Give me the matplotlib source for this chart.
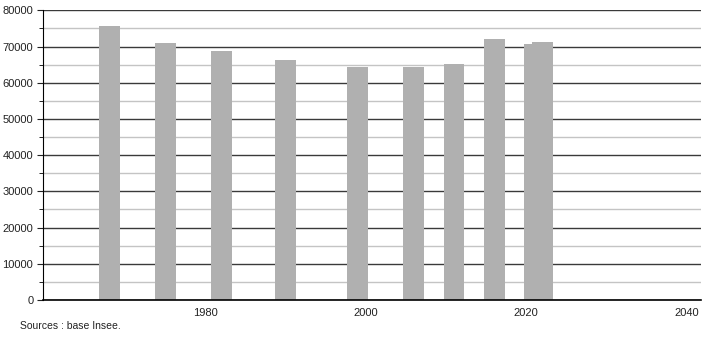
import numpy as np
import matplotlib.pyplot as plt
from matplotlib.ticker import MultipleLocator

# census years and population
years = [1968, 1975, 1982, 1990, 1999, 2006, 2011, 2016, 2021, 2022]
population = [75600, 70900, 68700, 66400, 64450, 64450, 65100, 71950, 70750, 71200]

year_ticks = [1980, 2000, 2020, 2040]


def render_plot():
    plt.rcParams['font.family'] = ['Liberation Sans', 'DejaVu Sans']

    fig = plt.figure(figsize=(7.1, 3.4), dpi=100)
    ax = fig.add_axes([0.0606, 0.1176, 0.9267, 0.852])

    # grid: dark lines every 10000, light ones in between
    ax.yaxis.set_major_locator(MultipleLocator(10000))
    ax.yaxis.set_minor_locator(MultipleLocator(5000))
    ax.grid(axis='y', which='major', color='#3a3a3a', linewidth=1.0)
    ax.grid(axis='y', which='minor', color='#c4c4c4', linewidth=1.0)
    ax.set_axisbelow(True)

    ax.bar(years, population, width=2.6, color='#b0b0b0', align='center')

    ax.set_xlim(1959.75, 2041.8)
    ax.set_ylim(0, 80000)
    ax.set_xticks(year_ticks)
    ax.set_xticklabels([str(y) for y in year_ticks])

    ax.spines['top'].set_visible(False)
    ax.spines['right'].set_visible(False)
    ax.spines['left'].set_color('black')
    ax.spines['bottom'].set_color('black')
    ax.spines['bottom'].set_linewidth(1.2)

    ax.tick_params(axis='x', length=0, pad=6, labelsize=8, colors='#222222')
    ax.tick_params(axis='y', which='major', length=4, pad=3, labelsize=8,
                   colors='#222222')
    ax.tick_params(axis='y', which='minor', length=3)

    fig.text(0.028, 0.032, 'Sources : base Insee.', fontsize=7.5, color='#222222')

    fig.savefig('out.png', dpi=100)


def main():
    render_plot()


if __name__ == "__main__":
    main()
